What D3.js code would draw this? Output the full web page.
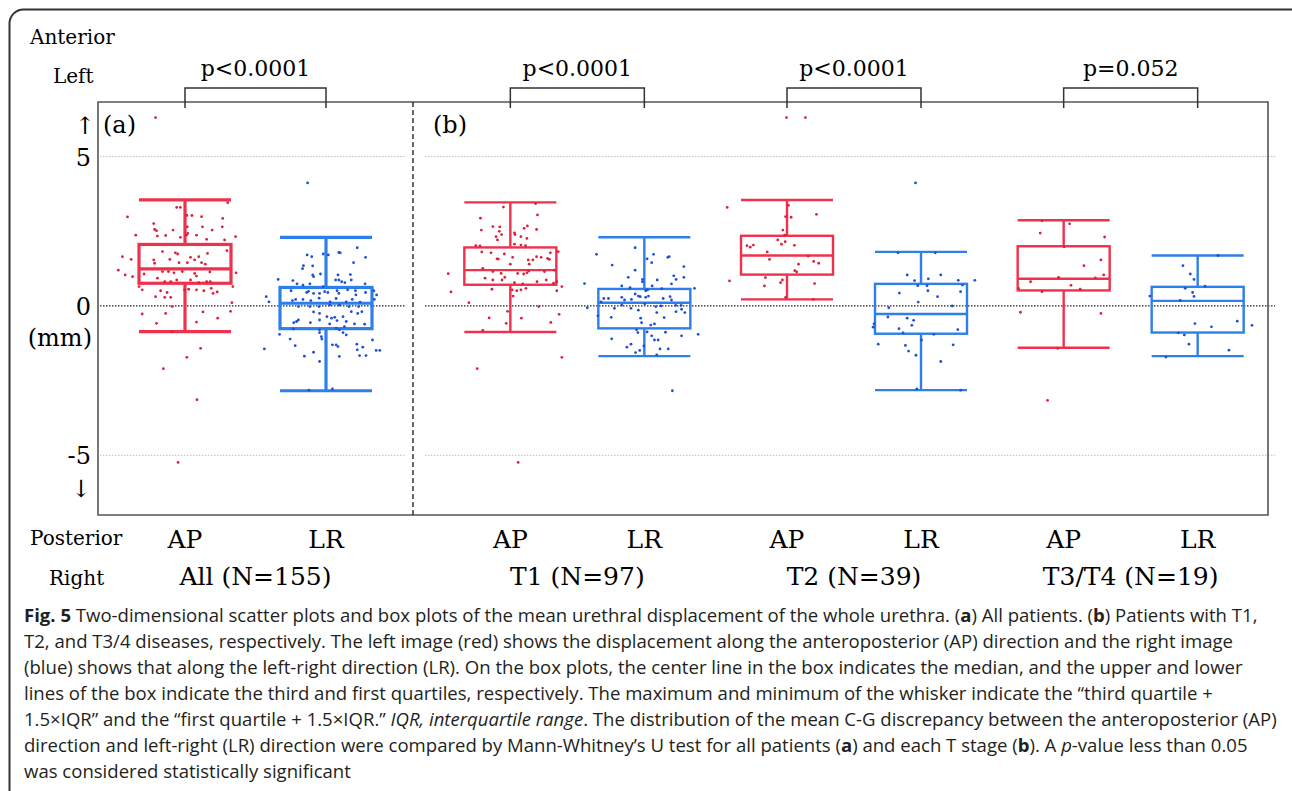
<!doctype html>
<html>
<head>
<meta charset="utf-8">
<title>Fig. 5 urethral displacement</title>
<script src="https://d3js.org/d3.v7.min.js"></script>
<style>
 body { margin: 0; background: #fff; }
 svg { display: block; }
</style>
</head>
<body>
<script>
// groups (x categories) and the panel each belongs to
var groups = ["All (N=155)", "T1 (N=97)", "T2 (N=39)", "T3/T4 (N=19)"];
var groupPanel = ["a", "b", "b", "b"];
var sides = ["AP", "LR"];
var pLabels = ["p<0.0001", "p<0.0001", "p<0.0001", "p=0.052"];
var yTicks = [5, 0, -5];

// box stats per group: [lower whisker, Q1, median, Q3, upper whisker] (mm)
var apBoxes = [
  [-0.86, 0.76, 1.24, 2.06, 3.55],
  [-0.87, 0.71, 1.20, 1.96, 3.47],
  [0.22, 1.05, 1.69, 2.35, 3.55],
  [-1.40, 0.52, 0.91, 2.00, 2.87]
];
var lrBoxes = [
  [-2.84, -0.76, 0.09, 0.62, 2.30],
  [-1.68, -0.75, 0.11, 0.57, 2.30],
  [-2.82, -0.93, -0.27, 0.74, 1.81],
  [-1.68, -0.89, 0.17, 0.64, 1.69]
];

// scatter points: [jitter (fraction of half box width), value mm]
var allApPts = [[-0.64,6.31],[-0.18,3.30],[-0.10,3.30],[0.93,3.46],[-1.25,2.98],[0.04,3.03],[0.15,3.03],[0.36,2.99],[0.82,2.93],[-0.68,2.76],
 [0.05,2.65],[0.38,2.65],[0.81,2.65],[-0.66,2.56],[-0.62,2.52],[-0.26,2.54],[0.59,2.54],[-1.07,2.37],[-0.60,2.34],[-0.42,2.36],
 [-0.10,2.30],[0.03,2.37],[0.06,2.43],[0.25,2.37],[0.47,2.23],[0.86,2.21],[1.10,2.32],[-0.49,1.82],[-0.21,1.78],[-0.16,1.74],
 [0.12,1.63],[0.30,1.65],[0.49,1.76],[0.91,1.85],[-1.36,1.65],[-1.17,1.56],[-0.68,1.54],[-0.66,1.43],[-0.33,1.56],[-0.13,1.45],
 [0.05,1.45],[0.21,1.54],[0.36,1.45],[0.44,1.40],[-1.45,1.20],[-1.30,1.04],[-1.14,0.98],[-0.89,1.07],[-0.49,1.15],[-0.36,1.15],
 [-0.24,1.11],[-0.06,1.15],[0.21,1.09],[0.25,1.00],[0.54,1.14],[1.11,1.11],[-0.60,0.93],[-0.44,0.81],[-0.31,0.81],[-0.18,0.87],
 [0.12,0.87],[0.30,0.78],[0.47,0.81],[0.55,0.81],[-1.00,0.65],[-0.93,0.54],[-0.53,0.51],[-0.39,0.45],[-0.01,0.54],[0.08,0.56],
 [0.25,0.54],[0.41,0.51],[0.57,0.59],[0.61,0.42],[0.70,0.47],[1.04,0.65],[-0.64,0.31],[-0.44,0.29],[-0.31,0.29],[-0.28,-0.02],
 [1.02,0.11],[-0.93,-0.27],[-0.42,-0.25],[0.39,-0.20],[0.99,-0.18],[-0.62,-0.58],[0.25,-0.54],[0.71,-0.41],[-0.28,-0.86],[0.34,-1.42],
 [0.04,-1.72],[-0.47,-2.10],[0.26,-3.14],[-0.15,-5.24]];
var allLrPts = [[-0.40,4.12],[-0.41,1.71],[-0.31,1.65],[-0.06,1.74],[0.05,1.71],[0.28,1.79],[0.31,1.78],[0.68,1.95],[0.86,1.63],[0.60,1.45],
 [-0.49,1.35],[-0.51,1.25],[-0.29,1.34],[-0.29,1.04],[-0.27,0.98],[-0.12,1.07],[0.26,1.04],[0.21,0.87],[0.28,0.87],[0.34,0.81],
 [0.41,0.78],[0.53,1.05],[0.55,0.87],[-1.04,0.89],[-0.72,0.85],[-0.63,0.74],[-0.50,0.70],[-0.35,0.74],[-0.06,0.65],[0.85,0.74],
 [-0.76,0.51],[-0.42,0.45],[-0.38,0.49],[-0.27,0.42],[-0.14,0.42],[-0.03,0.48],[0.04,0.45],[0.24,0.51],[0.28,0.42],[0.47,0.54],
 [0.64,0.51],[0.65,0.37],[0.86,0.45],[1.04,0.51],[1.10,0.37],[-1.30,0.31],[-1.24,0.14],[-0.73,0.18],[-0.66,0.22],[-0.50,0.22],
 [-0.33,0.18],[-0.15,0.26],[0.09,0.14],[0.22,0.25],[0.44,0.14],[0.57,0.22],[0.74,0.13],[1.05,0.22],[-0.60,-0.02],[-0.35,-0.02],
 [-0.15,-0.02],[0.08,0.03],[0.29,0.03],[0.50,-0.02],[0.71,-0.02],[-0.27,-0.20],[-0.14,-0.25],[0.02,-0.36],[0.12,-0.41],[0.19,-0.38],
 [0.37,-0.36],[0.55,-0.19],[0.69,-0.25],[0.78,-0.19],[-0.70,-0.56],[-0.64,-0.52],[-0.60,-0.47],[-0.34,-0.56],[-0.14,-0.47],[0.08,-0.60],
 [0.24,-0.49],[0.44,-0.52],[0.62,-0.60],[0.84,-0.61],[-0.71,-0.77],[-0.14,-0.80],[0.22,-0.74],[0.29,-0.80],[0.40,-0.69],[-0.14,-0.89],
 [-0.10,-1.03],[-0.09,-1.11],[0.37,-0.89],[0.44,-0.97],[-1.01,-0.95],[-0.78,-1.11],[-0.67,-1.33],[0.14,-1.30],[0.22,-1.30],[0.26,-1.36],
 [0.67,-1.28],[0.80,-1.38],[1.01,-1.14],[1.09,-1.49],[1.17,-1.49],[0.68,-1.47],[0.73,-1.66],[0.87,-1.66],[0.29,-1.69],[-0.47,-1.68],
 [-0.27,-1.55],[-0.14,-1.86],[-1.34,-1.44],[0.14,-2.78],[-0.37,-2.82]];
var t1ApPts = [[-0.15,3.31],[0.55,3.43],[0.59,3.05],[-0.65,2.94],[-0.38,2.66],[-0.23,2.65],[0.37,2.68],[0.30,2.60],[0.57,2.56],[-0.63,2.54],
 [-0.24,2.50],[0.09,2.45],[0.10,2.39],[0.23,2.32],[-0.31,2.32],[-0.28,2.21],[0.36,2.26],[-0.19,2.39],[0.09,2.07],[0.23,2.04],
 [0.33,2.02],[-0.75,2.02],[-0.66,2.01],[-1.35,1.08],[-1.29,0.47],[-0.62,1.81],[-0.42,1.78],[-0.29,1.58],[-0.13,1.74],[0.00,1.40],
 [-0.26,1.57],[0.05,1.63],[0.39,1.54],[0.41,1.40],[0.49,1.54],[0.57,1.65],[0.67,1.63],[0.81,1.59],[0.85,1.56],[0.87,1.78],
 [1.04,1.82],[-0.60,1.26],[-0.38,1.15],[-0.20,1.09],[-0.12,0.96],[0.16,1.09],[0.29,1.07],[0.36,1.11],[0.40,1.17],[0.74,1.15],
 [0.96,1.20],[-0.55,0.93],[-0.38,0.87],[-0.18,0.87],[0.09,0.78],[0.27,0.74],[0.58,0.81],[0.78,0.87],[0.94,0.76],[1.01,0.81],
 [1.12,0.65],[-0.40,0.56],[0.04,0.54],[0.14,0.51],[0.23,0.54],[0.34,0.59],[0.06,0.33],[1.01,0.51],[-0.90,0.11],[0.62,-0.02],
 [-0.06,-0.18],[1.06,-0.28],[-0.46,-0.40],[0.24,-0.41],[-0.09,-0.58],[0.88,-0.55],[-0.60,-0.82],[1.12,-1.72],[-0.72,-2.10],[0.17,-5.24]];
var t1LrPts = [[-1.04,1.73],[-0.70,1.37],[-0.20,1.95],[0.06,1.58],[0.20,1.73],[0.16,1.45],[0.54,1.65],[0.51,1.63],[0.86,1.32],[-0.35,0.96],
 [-0.20,1.20],[-0.04,0.89],[-0.04,0.81],[0.28,0.87],[0.64,1.01],[0.69,0.89],[0.86,0.96],[0.59,0.74],[-1.30,0.75],[-0.49,0.67],
 [-0.31,0.61],[0.03,0.51],[0.07,0.54],[0.17,0.67],[0.38,0.58],[1.09,0.59],[-0.88,0.25],[-0.78,0.25],[-0.49,0.29],[-0.43,0.20],
 [-0.20,0.40],[-0.13,0.33],[-0.09,0.31],[-0.28,0.22],[0.03,0.29],[0.09,0.33],[0.41,0.25],[0.56,0.31],[0.59,0.20],[-0.94,0.14],
 [-0.65,-0.08],[-0.49,0.03],[-0.29,-0.08],[-0.13,-0.14],[0.01,0.07],[0.25,-0.02],[0.36,0.00],[0.68,0.02],[0.80,0.02],[0.81,-0.11],
 [-1.24,-0.06],[-1.01,-0.33],[-0.72,-0.38],[-0.08,-0.41],[-0.06,-0.56],[0.27,-0.22],[0.43,-0.39],[0.69,-0.19],[0.88,-0.22],[0.14,-0.64],
 [0.22,-0.60],[0.06,-0.87],[-0.17,-0.80],[-0.14,-0.89],[0.16,-1.00],[0.22,-1.14],[0.30,-1.14],[0.46,-0.88],[0.81,-1.00],[1.17,-0.95],
 [-0.71,-1.10],[-0.38,-1.38],[-0.29,-1.28],[-0.19,-1.56],[-0.10,-1.49],[-0.01,-1.34],[0.27,-1.64],[0.34,-1.44],[0.52,-1.44],[0.61,-2.84]];
var t2ApPts = [[-0.01,6.31],[0.40,6.31],[-1.30,3.30],[0.03,3.37],[-0.03,2.99],[0.09,2.97],[0.64,3.07],[-0.09,2.54],[-0.05,2.37],[-0.87,2.02],
 [-0.80,1.97],[-0.73,2.04],[-0.20,2.21],[-0.12,2.07],[-0.04,2.15],[0.16,2.03],[-0.43,1.81],[-0.38,1.56],[0.25,1.40],[0.46,1.67],
 [0.58,1.49],[0.69,1.43],[0.17,1.18],[0.21,1.14],[-1.25,0.84],[-0.47,0.95],[-0.14,0.78],[-0.10,0.87],[0.60,0.75],[-0.49,0.67],
 [-0.03,0.29],[0.57,0.22]];
var t2LrPts = [[-0.12,4.12],[-0.50,1.78],[0.31,1.78],[-0.30,1.04],[-0.14,0.85],[0.16,0.91],[0.43,1.04],[0.81,0.86],[0.90,0.70],[1.17,0.86],
 [-0.07,0.68],[0.13,0.68],[-0.47,0.43],[0.15,0.51],[0.86,0.48],[0.36,0.31],[-0.06,0.13],[0.68,0.00],[-0.70,-0.06],[-1.02,-0.60],
 [-1.04,-0.71],[-0.72,-0.37],[-0.30,-0.41],[-0.16,-0.48],[-0.20,-0.65],[-0.48,-0.76],[-0.39,-0.90],[0.80,-0.79],[0.01,-1.14],[-0.93,-1.28],
 [-0.34,-1.32],[-0.27,-1.51],[-0.11,-1.65],[0.70,-1.30],[0.43,-1.86],[-0.09,-2.78],[0.86,-2.82],[0.28,-0.95]];
var t3ApPts = [[0.13,2.75],[-0.51,2.44],[0.89,2.31],[0.81,1.54],[0.44,1.35],[0.87,1.04],[-0.11,0.96],[-0.72,0.81],[0.69,0.94],[0.16,0.69],
 [0.36,0.56],[-0.47,0.48],[-0.98,0.59],[-0.94,-0.21],[0.81,-0.25],[-0.35,-3.16],[-0.13,-1.42],[-0.47,2.85],[0.01,1.98]];
var t3LrPts = [[-0.32,1.35],[-0.16,1.07],[-0.08,0.89],[0.16,0.66],[-0.27,0.59],[-0.11,0.45],[-0.08,0.32],[-1.04,0.33],[-0.38,0.19],[-0.06,-0.59],
 [0.30,-0.70],[0.86,-0.51],[1.18,-0.65],[-0.29,-0.97],[-0.19,-1.28],[0.68,-1.48],[-0.69,-1.71],[0.44,1.69],[-0.42,-0.90]];

var apPoints = [allApPts, t1ApPts, t2ApPts, t3ApPts];
var lrPoints = [allLrPts, t1LrPts, t2LrPts, t3LrPts];

var W = 1292, H = 791;
var serif = "'DejaVu Serif', serif";
var svg = d3.select("body").append("svg")
  .attr("width", W)
  .attr("height", H);

// outer rounded frame
svg.append("rect")
  .attr("x", 9.5).attr("y", 9.5)
  .attr("width", W + 40).attr("height", H + 40)
  .attr("rx", 14)
  .attr("fill", "none")
  .attr("stroke", "#333")
  .attr("stroke-width", 2);

var plotL = 98, plotR = 1268, plotT = 102, plotB = 515, divX = 413;
var boxW = 92;

var y = d3.scaleLinear().domain([-7, 6.83]).range([plotB, plotT]);

var panelRange = { a: [plotL, divX], b: [439, 1269] };
var panelHalf = { a: 70.5, b: 67 };
var gridSpan = { a: [100, 406], b: [425, 1275] };
var xBand = {};
["a", "b"].forEach(function (p) {
  xBand[p] = d3.scaleBand()
    .domain(groups.filter(function (g, i) { return groupPanel[i] === p; }))
    .range(panelRange[p]);
});
function cx(gi, side) {
  var p = groupPanel[gi];
  var inner = d3.scalePoint().domain(sides).range([-panelHalf[p], panelHalf[p]]);
  return xBand[p](groups[gi]) + xBand[p].bandwidth() / 2 + inner(side);
}

// grid lines
["a", "b"].forEach(function (p) {
  svg.selectAll(null)
    .data(yTicks)
    .enter().append("line")
    .attr("x1", gridSpan[p][0]).attr("x2", gridSpan[p][1])
    .attr("y1", function (d) { return y(d); })
    .attr("y2", function (d) { return y(d); })
    .attr("stroke", function (d) { return d === 0 ? "#222" : "#bbb"; })
    .attr("stroke-width", function (d) { return d === 0 ? 1.3 : 1; })
    .attr("stroke-dasharray", "1.5,1.5");
});

// plot frame
svg.append("path")
  .attr("d", "M" + plotL + "," + plotT + "H" + plotR + "V" + plotB + "H" + plotL + "Z")
  .attr("fill", "none")
  .attr("stroke", "#555")
  .attr("stroke-width", 1.6);
svg.append("line")
  .attr("x1", divX).attr("x2", divX)
  .attr("y1", plotT).attr("y2", plotB)
  .attr("stroke", "#222")
  .attr("stroke-width", 1.4)
  .attr("stroke-dasharray", "5,3");

// y tick labels
svg.selectAll(null)
  .data(yTicks)
  .enter().append("text")
  .attr("x", 91)
  .attr("y", function (d) { return y(d) + 9; })
  .attr("text-anchor", "end")
  .style("font-family", serif)
  .style("font-size", "24px")
  .text(function (d) { return d; });
svg.append("text").attr("x", 92).attr("y", y(0) + 40)
  .attr("text-anchor", "end").style("font-family", serif).style("font-size", "24px")
  .text("(mm)");
svg.append("text").attr("x", 85).attr("y", 134)
  .attr("text-anchor", "middle").style("font-family", serif).style("font-size", "24px")
  .text("\u2191");
svg.append("text").attr("x", 81).attr("y", 497)
  .attr("text-anchor", "middle").style("font-family", serif).style("font-size", "24px")
  .text("\u2193");

// corner labels
var corner = [["Anterior", 30, 44], ["Left", 53, 83], ["Posterior", 30, 545], ["Right", 49, 585]];
svg.selectAll(null)
  .data(corner)
  .enter().append("text")
  .attr("x", function (d) { return d[1]; })
  .attr("y", function (d) { return d[2]; })
  .style("font-family", serif)
  .style("font-size", "20px")
  .text(function (d) { return d[0]; });

svg.append("text").attr("x", 103).attr("y", 133)
  .style("font-family", serif).style("font-size", "24px").text("(a)");
svg.append("text").attr("x", 433).attr("y", 133)
  .style("font-family", serif).style("font-size", "24px").text("(b)");

var boxColor = { AP: "#f0314d", LR: "#2d7fe9" };
var dotColor = { AP: "#d9223b", LR: "#1f4fd8" };

groups.forEach(function (g, gi) {
  var lineW = groupPanel[gi] === "a" ? 3.2 : 2.4;
  sides.forEach(function (side) {
    var b = side === "AP" ? apBoxes[gi] : lrBoxes[gi];
    var pts = side === "AP" ? apPoints[gi] : lrPoints[gi];
    var x0 = cx(gi, side);
    var gBox = svg.append("g")
      .attr("stroke", boxColor[side])
      .attr("stroke-width", lineW)
      .attr("fill", "none");
    gBox.append("line").attr("x1", x0).attr("x2", x0).attr("y1", y(b[4])).attr("y2", y(b[3]));
    gBox.append("line").attr("x1", x0).attr("x2", x0).attr("y1", y(b[1])).attr("y2", y(b[0]));
    gBox.append("line").attr("x1", x0 - boxW / 2).attr("x2", x0 + boxW / 2).attr("y1", y(b[4])).attr("y2", y(b[4]));
    gBox.append("line").attr("x1", x0 - boxW / 2).attr("x2", x0 + boxW / 2).attr("y1", y(b[0])).attr("y2", y(b[0]));
    gBox.append("rect").attr("x", x0 - boxW / 2).attr("width", boxW)
      .attr("y", y(b[3])).attr("height", y(b[1]) - y(b[3]));
    gBox.append("line").attr("x1", x0 - boxW / 2).attr("x2", x0 + boxW / 2).attr("y1", y(b[2])).attr("y2", y(b[2]));

    svg.append("g").selectAll("circle")
      .data(pts)
      .enter().append("circle")
      .attr("cx", function (d) { return x0 + d[0] * boxW / 2; })
      .attr("cy", function (d) { return y(d[1]); })
      .attr("r", 1.4)
      .attr("fill", dotColor[side]);

    svg.append("text")
      .attr("x", x0).attr("y", 548)
      .attr("text-anchor", "middle")
      .style("font-family", serif).style("font-size", "25px")
      .text(side);
  });

  // bracket + p value
  var xa = cx(gi, "AP"), xl = cx(gi, "LR");
  svg.append("path")
    .attr("d", "M" + xa + ",108V88H" + xl + "V108")
    .attr("fill", "none")
    .attr("stroke", "#333")
    .attr("stroke-width", 1.5);
  svg.append("text")
    .attr("x", (xa + xl) / 2).attr("y", 76)
    .attr("text-anchor", "middle")
    .style("font-family", serif).style("font-size", "22px")
    .text(pLabels[gi]);
  svg.append("text")
    .attr("x", (xa + xl) / 2).attr("y", 585)
    .attr("text-anchor", "middle")
    .style("font-family", serif).style("font-size", "25px")
    .text(g);
});

// caption
var caption = [
  [["Fig. 5", "b"], [" Two-dimensional scatter plots and box plots of the mean urethral displacement of the whole urethra. ("], ["a", "b"], [") All patients. ("], ["b", "b"], [") Patients with T1,"]],
  [["T2, and T3/4 diseases, respectively. The left image (red) shows the displacement along the anteroposterior (AP) direction and the right image"]],
  [["(blue) shows that along the left-right direction (LR). On the box plots, the center line in the box indicates the median, and the upper and lower"]],
  [["lines of the box indicate the third and first quartiles, respectively. The maximum and minimum of the whisker indicate the \u201cthird quartile +"]],
  [["1.5\u00d7IQR\u201d and the \u201cfirst quartile + 1.5\u00d7IQR.\u201d "], ["IQR, interquartile range", "i"], [". The distribution of the mean C-G discrepancy between the anteroposterior (AP)"]],
  [["direction and left-right (LR) direction were compared by Mann-Whitney\u2019s U test for all patients ("], ["a", "b"], [") and each T stage ("], ["b", "b"], ["). A "], ["p", "i"], ["-value less than 0.05"]],
  [["was considered statistically significant"]]
];
var cap = svg.append("g");
var capTexts = [];
caption.forEach(function (line, li) {
  var t = cap.append("text")
    .attr("x", 0).attr("y", 622 + li * 26)
    .style("font-family", "'Open Sans', sans-serif")
    .style("font-size", "18.5px")
    .attr("fill", "#231f20");
  line.forEach(function (seg) {
    t.append("tspan")
      .style("font-weight", seg[1] === "b" ? "bold" : null)
      .style("font-style", seg[1] === "i" ? "italic" : null)
      .text(seg[0]);
  });
  capTexts.push(t.node());
});
var k = Math.min(1256 / capTexts[0].getComputedTextLength(), 1254 / capTexts[4].getComputedTextLength());
cap.attr("transform", "translate(24,0) scale(" + k + ",1)");
</script>
</body>
</html>
